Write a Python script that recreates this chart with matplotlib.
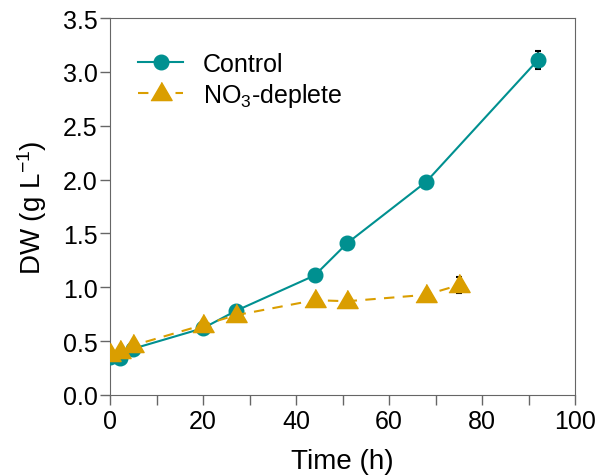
import matplotlib
matplotlib.use('Agg')
import matplotlib.pyplot as plt
from matplotlib.ticker import MultipleLocator

plt.rcParams['font.family'] = ['Liberation Sans', 'DejaVu Sans']
plt.rcParams['mathtext.fontset'] = 'custom'
plt.rcParams['mathtext.rm'] = 'Liberation Sans'
plt.rcParams['mathtext.it'] = 'Liberation Sans'

t_control = [0, 2, 5, 20, 27, 44, 51, 68, 92]
dw_control = [0.35, 0.34, 0.43, 0.62, 0.78, 1.11, 1.41, 1.98, 3.11]
err_control = [0.01, 0.01, 0.01, 0.01, 0.01, 0.02, 0.02, 0.02, 0.085]

t_no3 = [0, 2, 5, 20, 27, 44, 51, 68, 75]
dw_no3 = [0.38, 0.41, 0.46, 0.65, 0.74, 0.88, 0.87, 0.93, 1.02]
err_no3 = [0.01, 0.01, 0.01, 0.01, 0.01, 0.02, 0.02, 0.02, 0.075]

teal = '#009090'
gold = '#DA9E00'

# triangle centred on its centroid, like the original
tri = [(-10.5, -7), (10.5, -7), (0, 11)]

fig = plt.figure(figsize=(5.99, 4.77), dpi=100)
ax = fig.add_axes([0.184, 0.17, 0.776, 0.79])

# error bars underneath the markers
ax.errorbar(t_control, dw_control, yerr=err_control, fmt='none', ecolor='black',
            elinewidth=1.2, capsize=2.2, capthick=1.5, zorder=2)
ax.errorbar(t_no3, dw_no3, yerr=err_no3, fmt='none', ecolor='black',
            elinewidth=1.2, capsize=2.2, capthick=1.5, zorder=2)
ax.plot(t_control, dw_control, color=teal, marker='o', markersize=10.5, lw=1.5,
        label='Control', zorder=3)
ax.plot(t_no3, dw_no3, color=gold, marker=tri, markersize=16, lw=1.5,
        ls=(0, (5, 4)), label='NO$_3$-deplete', zorder=4)

ax.set_xlim(0, 100)
ax.set_ylim(0, 3.5)
ax.xaxis.set_major_locator(MultipleLocator(20))
ax.xaxis.set_minor_locator(MultipleLocator(10))
ax.yaxis.set_major_locator(MultipleLocator(0.5))
ax.yaxis.set_major_formatter(plt.FormatStrFormatter('%.1f'))
ax.tick_params(which='both', direction='out', labelsize=18, color='#666666',
               length=7, width=1)
ax.tick_params(axis='y', pad=2)
ax.tick_params(axis='x', pad=3)
for s in ax.spines.values():
    s.set_color('#666666')

ax.set_xlabel('Time (h)', fontsize=20, labelpad=11)
ax.set_ylabel('DW (g L$^{-1}$)', fontsize=20, labelpad=10)

ax.legend(loc='upper left', bbox_to_anchor=(0.06, 0.91), frameon=False,
          fontsize=18, handlelength=1.8, handletextpad=0.8, labelspacing=0.2,
          borderpad=0, borderaxespad=0)

fig.savefig('out.png', dpi=100)
